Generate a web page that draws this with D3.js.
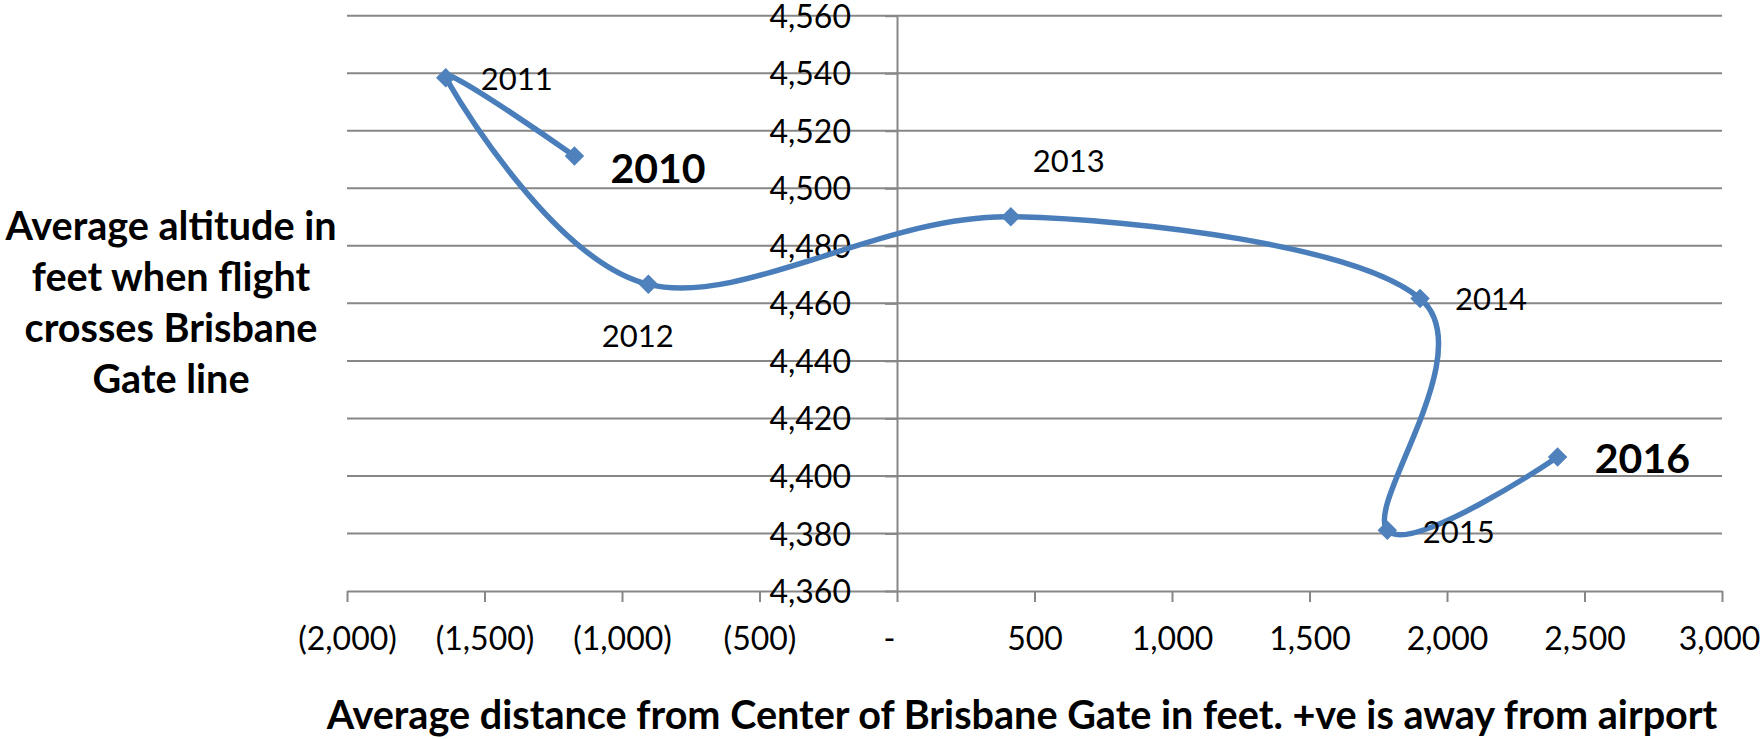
<!DOCTYPE html>
<html><head><meta charset="utf-8">
<script src="https://cdn.jsdelivr.net/npm/d3@7"></script>
<style>
body{margin:0;background:#fff;}
text{font-family:Lato, "Open Sans", sans-serif; fill:#000;}
</style>
</head><body>
<svg id="chart" width="1763" height="739"></svg>
<script>
// ---- data ----
const years = ["2010","2011","2012","2013","2014","2015","2016"];
const distance = [-1173, -1641, -904, 414, 1902, 1783, 2402];
const altitude = [4511.2, 4538.4, 4466.6, 4490.1, 4461.7, 4381.1, 4406.6];
const boldYears = ["2010","2016"];
const xTicks = [-2000,-1500,-1000,-500,0,500,1000,1500,2000,2500,3000];
const yTicks = [4360,4380,4400,4420,4440,4460,4480,4500,4520,4540,4560];
const yTitleLines = ["Average altitude in","feet when flight","crosses Brisbane","Gate line"];
const xTitle = "Average distance from Center of Brisbane Gate in feet. +ve is away from airport";

// ---- layout (label offsets from their point: left edge, baseline) ----
const labelOffsets = [[36,27],[35,12.3],[-46.6,62.4],[22,-44.7],[35,11.7],[35.4,12.7],[37.3,16.3]];

const svg = d3.select("#chart");
const x = d3.scaleLinear().domain([-2000,3000]).range([347,1722]);
const y = d3.scaleLinear().domain([4360,4560]).range([591,15.7]);
const grey = "#878787";

// gridlines
svg.append("g").selectAll("line").data(yTicks.filter(d=>d!==4360)).join("line")
  .attr("x1",x(-2000)).attr("x2",x(3000))
  .attr("y1",d=>y(d)).attr("y2",d=>y(d))
  .attr("stroke",grey).attr("stroke-width",2);

// x axis
const fmt = d3.format(",");
const xAxis = d3.axisBottom(x).tickValues(xTicks).tickSize(11).tickSizeOuter(0)
  .tickFormat(d => d<0 ? "(" + fmt(-d) + ")" : d===0 ? "-" : fmt(d));
const gx = svg.append("g").attr("transform",`translate(0,${y(4360)})`).call(xAxis);
gx.select(".domain").attr("stroke",grey).attr("stroke-width",2);
gx.selectAll(".tick line").attr("stroke",grey).attr("stroke-width",2);
gx.selectAll(".tick text").attr("font-size",32).attr("font-family","Lato").attr("fill","#000")
  .attr("y",59).attr("dy",0)
  .attr("dx",d=>d===0?-8:(d===3000?-3:0));

// y axis at x=0
const yAxis = d3.axisLeft(y).tickValues(yTicks).tickSize(12).tickSizeOuter(0).tickPadding(34)
  .tickFormat(fmt);
const gy = svg.append("g").attr("transform",`translate(${x(0)},0)`).call(yAxis);
gy.select(".domain").attr("stroke",grey).attr("stroke-width",2);
gy.selectAll(".tick line").attr("stroke",grey).attr("stroke-width",2);
gy.selectAll(".tick text").attr("font-size",32).attr("font-family","Lato").attr("fill","#000")
  .attr("dy","0.36em");

// series
const pts = years.map((yr,i)=>({year:yr, x:distance[i], y:altitude[i], off:labelOffsets[i]}));
const line = d3.line().x(d=>x(d.x)).y(d=>y(d.y)).curve(d3.curveCardinal.tension(0));
svg.append("path").datum(pts).attr("d",line)
  .attr("fill","none").attr("stroke","#4A7EBB").attr("stroke-width",5.5)
  .attr("stroke-linejoin","round").attr("stroke-linecap","round");

const sym = d3.symbol().type(d3.symbolSquare).size(190);
svg.append("g").selectAll("path").data(pts).join("path")
  .attr("d",sym)
  .attr("transform",d=>`translate(${x(d.x)},${y(d.y)}) rotate(45)`)
  .attr("fill","#4F81BD");

// data labels
svg.append("g").selectAll("text").data(pts).join("text")
  .attr("x",d=>x(d.x)+d.off[0]).attr("y",d=>y(d.y)+d.off[1])
  .attr("font-size",d=>boldYears.includes(d.year)?41:31)
  .attr("font-weight",d=>boldYears.includes(d.year)?"bold":"normal")
  .text(d=>d.year);

// y title
svg.append("text").attr("text-anchor","middle").attr("font-size",39.6).attr("font-weight","bold")
  .selectAll("tspan").data(yTitleLines).join("tspan")
  .attr("x",171).attr("y",(d,i)=>240+i*51).text(d=>d);

// x title
svg.append("text").attr("text-anchor","middle").attr("font-size",39.6).attr("font-weight","bold")
  .attr("x",1022).attr("y",729).text(xTitle);
</script>
</body></html>
